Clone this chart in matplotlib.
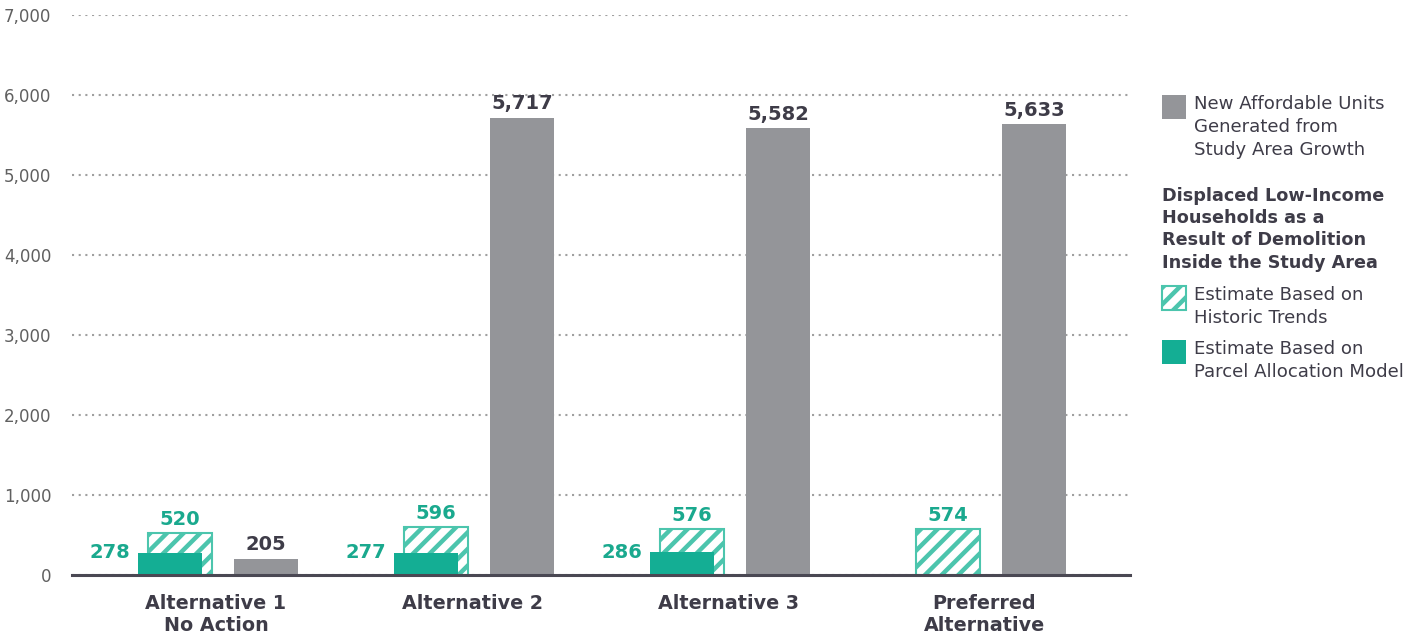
import matplotlib.pyplot as plt
from matplotlib.patches import Rectangle
from matplotlib.ticker import FuncFormatter

plt.rcParams['font.family'] = ['DejaVu Sans']
plt.rcParams['hatch.linewidth'] = 3.2

# Alternatives along the x axis
categories = ['Alternative 1\nNo Action', 'Alternative 2', 'Alternative 3', 'Preferred\nAlternative']
historic_trends = [520, 596, 576, 574]
parcel_model = [278, 277, 286, None]
new_affordable = [205, 5717, 5582, 5633]

teal = '#14ae94'
teal_light = '#4cc5ad'
teal_text = '#1aa98e'
gray = '#949599'
dark = '#3e3c48'

fig = plt.figure(figsize=(14.24, 6.41), dpi=100)
ax = fig.add_axes([72 / 1424, 66 / 641, (1130 - 72) / 1424, (575 - 15) / 641])

w = 0.25
x = list(range(len(categories)))

for i in x:
    # hatched estimate (historic trends) sits behind the solid one
    ax.bar(i - 0.14, historic_trends[i], width=w, facecolor='white', edgecolor=teal_light,
           hatch='//', linewidth=1.5, zorder=2)
    ax.text(i - 0.14, historic_trends[i] + 55, f'{historic_trends[i]:,}', ha='center', va='bottom',
            color=teal_text, fontsize=14, fontweight='bold')
    if parcel_model[i] is not None:
        ax.bar(i - 0.18, parcel_model[i], width=w, color=teal, zorder=3)
        ax.text(i - 0.18 - w / 2 - 0.03, parcel_model[i], f'{parcel_model[i]:,}', ha='right', va='center',
                color=teal_text, fontsize=14, fontweight='bold')
    ax.bar(i + 0.195, new_affordable[i], width=w, color=gray, zorder=3)
    ax.text(i + 0.195, new_affordable[i] + 55, f'{new_affordable[i]:,}', ha='center', va='bottom',
            color=dark, fontsize=14, fontweight='bold')

ax.set_xlim(-0.5625, 3.57)
ax.set_ylim(0, 7000)
ax.set_yticks(range(0, 7001, 1000))
ax.yaxis.set_major_formatter(FuncFormatter(lambda v, p: f'{int(v):,}'))
ax.set_xticks(x)
ax.set_xticklabels(categories, fontsize=13.8, fontweight='bold', color=dark, linespacing=1.15)

ax.grid(axis='y', color='#a0a0a0', linestyle=(0, (1, 2.2)), linewidth=1.5, zorder=0)
ax.set_axisbelow(True)
for side in ['top', 'right', 'left']:
    ax.spines[side].set_visible(False)
ax.spines['bottom'].set_color('#4a4853')
ax.spines['bottom'].set_linewidth(2.2)
ax.spines['bottom'].set_zorder(4)
ax.tick_params(axis='y', length=0, pad=15, labelsize=12, labelcolor='#606060')
ax.tick_params(axis='x', length=0, pad=14)

# Legend drawn by hand on the right side
def fx(px):
    return px / 1424

def fy(py):
    return 1 - py / 641

def swatch(top, **kw):
    fig.patches.append(Rectangle((fx(1162), fy(top + 24)), 24 / 1424, 24 / 641,
                                 transform=fig.transFigure, **kw))

swatch(95, facecolor=gray, edgecolor='none')
fig.text(fx(1194), fy(95), 'New Affordable Units\nGenerated from\nStudy Area Growth',
         ha='left', va='top', fontsize=13.1, color=dark, linespacing=1.34)
fig.text(fx(1162), fy(187), 'Displaced Low-Income\nHouseholds as a\nResult of Demolition\nInside the Study Area',
         ha='left', va='top', fontsize=12.7, fontweight='bold', color=dark, linespacing=1.3)
swatch(286, facecolor='white', edgecolor=teal_light, hatch='//', linewidth=1.5)
fig.text(fx(1194), fy(286), 'Estimate Based on\nHistoric Trends',
         ha='left', va='top', fontsize=13.1, color=dark, linespacing=1.34)
swatch(340, facecolor=teal, edgecolor='none')
fig.text(fx(1194), fy(340), 'Estimate Based on\nParcel Allocation Model',
         ha='left', va='top', fontsize=13.1, color=dark, linespacing=1.34)

fig.savefig('out.png', dpi=100)
